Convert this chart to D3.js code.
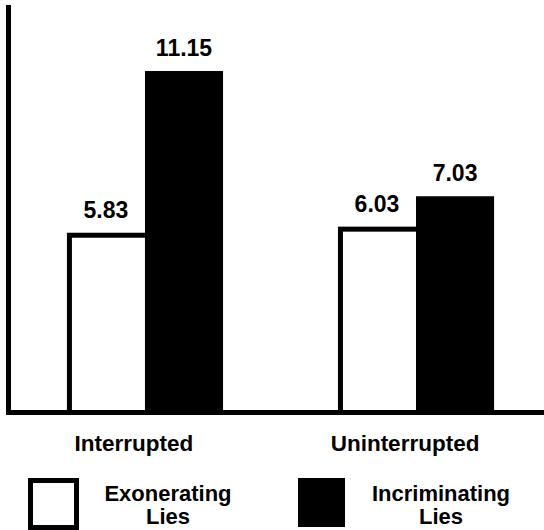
<!DOCTYPE html>
<html>
<head>
<meta charset="utf-8">
<script src="https://cdn.jsdelivr.net/npm/d3@7"></script>
<style>
  html, body { margin: 0; padding: 0; background: #fff; }
  svg { display: block; }
  text { font-family: "Liberation Sans", Arial, Helvetica, sans-serif; font-weight: bold; fill: #000; }
</style>
</head>
<body>
<svg id="chart" width="544" height="530"></svg>
<script>
// Mean number of lies by interview condition
const conditions = ["Interrupted", "Uninterrupted"];
const lieTypes = ["Exonerating", "Incriminating"];
const exonerating = [5.83, 6.03];
const incriminating = [11.15, 7.03];
const legendLabels = [["Exonerating", "Lies"], ["Incriminating", "Lies"]];

const rows = conditions.map((c, i) => ({
  condition: c,
  values: [
    { type: "Exonerating", value: exonerating[i] },
    { type: "Incriminating", value: incriminating[i] }
  ]
}));

const svg = d3.select("#chart");
const W = 544;
const baseY = 410;
const axisW = 5;

const y = d3.scaleLinear().domain([0, 13.32]).range([baseY, 5]);

const x0 = d3.scaleBand()
  .domain(conditions)
  .range([10, 551])
  .paddingInner(0.424)
  .paddingOuter(0.21);

const x1 = d3.scaleBand()
  .domain(lieTypes)
  .range([0, x0.bandwidth()])
  .padding(0);

const fillOf = t => t === "Exonerating" ? "#fff" : "#000";

// bars
const groups = svg.append("g").selectAll("g")
  .data(rows)
  .join("g")
  .attr("transform", d => `translate(${x0(d.condition)},0)`);

const sw = 5;
// outlined (white) bars first, solid bars on top share the right edge
groups.selectAll("rect.open")
  .data(d => d.values.filter(v => v.type === "Exonerating"))
  .join("rect")
  .attr("class", "open")
  .attr("x", d => x1(d.type) + sw / 2)
  .attr("y", d => y(d.value) + sw / 2)
  .attr("width", x1.bandwidth())
  .attr("height", d => baseY - y(d.value))
  .attr("fill", "#fff")
  .attr("stroke", "#000")
  .attr("stroke-width", sw);

groups.selectAll("rect.solid")
  .data(d => d.values.filter(v => v.type === "Incriminating"))
  .join("rect")
  .attr("class", "solid")
  .attr("x", d => x1(d.type))
  .attr("y", d => y(d.value))
  .attr("width", x1.bandwidth())
  .attr("height", d => baseY - y(d.value))
  .attr("fill", "#000");

// value labels
groups.selectAll("text.val")
  .data(d => d.values)
  .join("text")
  .attr("class", "val")
  .attr("x", d => x1(d.type) + x1.bandwidth() / 2)
  .attr("y", d => y(d.value) - 15)
  .attr("text-anchor", "middle")
  .attr("font-size", 23)
  .text(d => d.value.toFixed(2));

// axes
svg.append("line")
  .attr("x1", 8.5).attr("x2", 8.5)
  .attr("y1", 5).attr("y2", baseY + axisW)
  .attr("stroke", "#000").attr("stroke-width", axisW);

svg.append("line")
  .attr("x1", 6).attr("x2", W)
  .attr("y1", baseY + axisW / 2).attr("y2", baseY + axisW / 2)
  .attr("stroke", "#000").attr("stroke-width", axisW);

// category labels
svg.append("g").selectAll("text")
  .data(conditions)
  .join("text")
  .attr("x", d => x0(d) + x0.bandwidth() / 2 - 11)
  .attr("y", 451)
  .attr("text-anchor", "middle")
  .attr("font-size", 22.5)
  .text(d => d);

// legend
const legend = svg.append("g");
const legendItems = [
  { type: "Exonerating", box: [30.5, 480.5, 46, 47], textX: 168 },
  { type: "Incriminating", box: [298, 478, 47, 49], textX: 441 }
];
legendItems.forEach((it, i) => {
  const r = legend.append("rect")
    .attr("x", it.box[0]).attr("y", it.box[1])
    .attr("width", it.box[2]).attr("height", it.box[3])
    .attr("fill", fillOf(it.type));
  if (it.type === "Exonerating") r.attr("stroke", "#000").attr("stroke-width", sw);
  legend.append("text")
    .attr("x", it.textX).attr("y", 501)
    .attr("text-anchor", "middle")
    .attr("font-size", 22)
    .text(legendLabels[i][0]);
  legend.append("text")
    .attr("x", it.textX).attr("y", 524)
    .attr("text-anchor", "middle")
    .attr("font-size", 22)
    .text(legendLabels[i][1]);
});
</script>
</body>
</html>
